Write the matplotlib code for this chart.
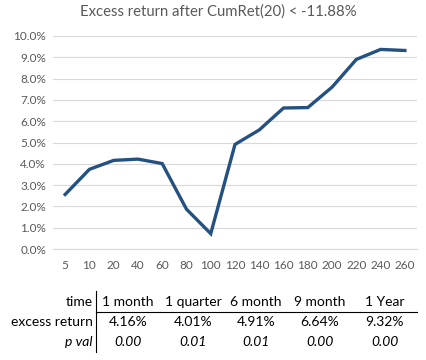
import matplotlib
matplotlib.use("Agg")
import matplotlib.pyplot as plt
from matplotlib.lines import Line2D

# chart data
horizons = ["5", "10", "20", "40", "60", "80", "100", "120", "140", "160",
            "180", "200", "220", "240", "260"]
excess = [2.56, 3.74, 4.16, 4.22, 4.01, 1.87, 0.72, 4.91, 5.59, 6.62,
          6.64, 7.60, 8.90, 9.37, 9.32]

# summary table data
periods = ["1 month", "1 quarter", "6 month", "9 month", "1 Year"]
period_excess = ["4.16%", "4.01%", "4.91%", "6.64%", "9.32%"]
period_pval = ["0.00", "0.01", "0.01", "0.00", "0.00"]

plt.rcParams["font.family"] = ["Lato", "DejaVu Sans"]
grey = "#595959"

fig = plt.figure(figsize=(4.27, 3.6), dpi=100)
W, H = 427.0, 360.0
ax = fig.add_axes([53 / W, 1 - 249 / H, 364 / W, 213 / H])

x = list(range(len(horizons)))
ax.plot(x, [v / 100 for v in excess], color="#245180", lw=2.4,
        solid_joinstyle="miter", zorder=3)

ax.set_xlim(-0.5, len(horizons) - 0.5)
ax.set_ylim(0, 0.10)
ax.set_yticks([i / 100 for i in range(11)])
ax.set_yticklabels(["%.1f%%" % i for i in range(11)])
ax.set_xticks(x)
ax.set_xticklabels(horizons)
ax.tick_params(length=0, labelsize=8.5, colors=grey, pad=5)
ax.tick_params(axis="x", pad=8)
ax.grid(axis="y", color="#D9D9D9", lw=0.8)
ax.set_axisbelow(True)
for s in ["top", "right", "left"]:
    ax.spines[s].set_visible(False)
ax.spines["bottom"].set_color("#D9D9D9")
ax.spines["bottom"].set_linewidth(0.8)

fig.text(218 / W, 1 - 12 / H, "Excess return after CumRet(20) < -11.88%",
         ha="center", va="center", fontsize=10.7, color=grey)

# table below the chart
col_x = [128, 193, 256, 320, 385]
row_y = [302.5, 322.5, 342.5]
fs = 10
fig.text(93 / W, 1 - row_y[0] / H, "time", ha="right", va="center", fontsize=fs)
fig.text(93 / W, 1 - row_y[1] / H, "excess return", ha="right", va="center", fontsize=fs)
fig.text(93 / W, 1 - row_y[2] / H, "p val", ha="right", va="center", fontsize=fs,
         style="italic")
for cx, p, e, pv in zip(col_x, periods, period_excess, period_pval):
    fig.text(cx / W, 1 - row_y[0] / H, p, ha="center", va="center", fontsize=fs)
    fig.text(cx / W, 1 - row_y[1] / H, e, ha="center", va="center", fontsize=fs)
    fig.text(cx / W, 1 - row_y[2] / H, pv, ha="center", va="center", fontsize=fs,
             style="italic")

fig.add_artist(Line2D([96 / W, 96 / W], [1 - 291 / H, 1 - 352 / H], color="black", lw=0.8))
fig.add_artist(Line2D([96 / W, 417 / W], [1 - 311.5 / H, 1 - 311.5 / H], color="black", lw=0.8))

fig.savefig("out.png", dpi=100)
